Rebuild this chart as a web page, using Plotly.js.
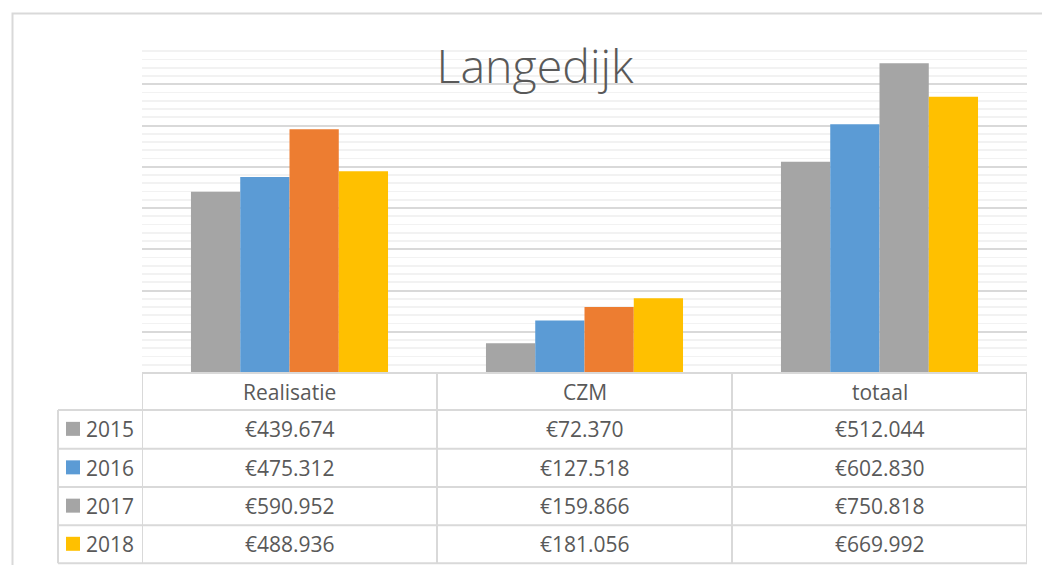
<!DOCTYPE html>
<html>
<head>
<meta charset="utf-8">
<script src="https://cdn.plot.ly/plotly-3.0.1.min.js"></script>
<style>html,body{margin:0;padding:0;background:#fff;}#chart{width:1042px;height:565px;}</style>
</head>
<body>
<div id="chart"></div>
<script>
// ---- data ----
var categories = ['Realisatie', 'CZM', 'totaal'];
var years = ['2015', '2016', '2017', '2018'];
var v2015 = [439674, 72370, 512044];
var v2016 = [475312, 127518, 602830];
var v2017 = [590952, 159866, 750818];
var v2018 = [488936, 181056, 669992];
var seriesValues = [v2015, v2016, v2017, v2018];
var barColors = [
  ['#a5a5a5', '#a5a5a5', '#a5a5a5'],
  ['#5b9bd5', '#5b9bd5', '#5b9bd5'],
  ['#ed7d31', '#ed7d31', '#a5a5a5'],
  ['#ffc000', '#ffc000', '#ffc000']
];
var legendColors = ['#a5a5a5', '#5b9bd5', '#a5a5a5', '#ffc000'];
var chartTitle = 'Langedijk';

// ---- layout helpers (pixel -> paper) ----
var W = 1042, H = 565;
var M = {l: 142, r: 15, t: 43, b: 192};
var PW = W - M.l - M.r, PH = H - M.t - M.b;
function xp(px) { return (px - M.l) / PW; }
function yp(py) { return (H - M.b - py) / PH; }

function fmt(v) {
  var s = String(Math.round(v));
  return '\u20AC' + s.replace(/\B(?=(\d{3})+(?!\d))/g, '.');
}

var txtColor = '#595959';
var fontFam = '"Open Sans", "Noto Sans", sans-serif';
var lineCol = '#d9d9d9';
var cellFont = 21;

var traces = years.map(function (y, i) {
  return {
    type: 'bar', name: y, x: categories, y: seriesValues[i],
    marker: {color: barColors[i], line: {width: 0}},
    hoverinfo: 'x+y+name', showlegend: false
  };
});

var shapes = [];
var annotations = [];

// outer frame
shapes.push({type: 'rect', xref: 'paper', yref: 'paper',
  x0: xp(12.5), x1: xp(1070), y0: yp(13.5), y1: yp(620),
  line: {color: lineCol, width: 2}, fillcolor: 'rgba(0,0,0,0)', layer: 'below'});

// table geometry
var rowLines = [373, 410, 448.7, 487, 525.3, 563.3];
var colEdges = [-0.5, 0.5, 1.5, 2.5];
var legendLeft = 58;
shapes.push({type: 'line', xref: 'x', yref: 'paper', x0: -0.5, x1: 2.5,
  y0: yp(rowLines[0]), y1: yp(rowLines[0]), line: {color: lineCol, width: 2}});
for (var r = 1; r < rowLines.length; r++) {
  shapes.push({type: 'line', xref: 'paper', yref: 'paper', x0: xp(legendLeft), x1: xp(1027),
    y0: yp(rowLines[r]), y1: yp(rowLines[r]), line: {color: lineCol, width: 2}});
}
colEdges.forEach(function (cx) {
  shapes.push({type: 'line', xref: 'x', yref: 'paper', x0: cx, x1: cx,
    y0: yp(rowLines[0]), y1: yp(rowLines[rowLines.length - 1]), line: {color: lineCol, width: 2}});
});
shapes.push({type: 'line', xref: 'paper', yref: 'paper', x0: xp(legendLeft), x1: xp(legendLeft),
  y0: yp(rowLines[1]), y1: yp(rowLines[rowLines.length - 1]), line: {color: lineCol, width: 2}});

// header labels
categories.forEach(function (c) {
  annotations.push({xref: 'x', yref: 'paper', x: c, y: yp((rowLines[0] + rowLines[1]) / 2),
    text: c, showarrow: false, xanchor: 'center', yanchor: 'middle',
    font: {family: fontFam, size: cellFont, color: txtColor}});
});

// rows
years.forEach(function (y, i) {
  var cy = (rowLines[i + 1] + rowLines[i + 2]) / 2;
  shapes.push({type: 'rect', xref: 'paper', yref: 'paper',
    x0: xp(66), x1: xp(80), y0: yp(cy - 7.5), y1: yp(cy + 6.5),
    fillcolor: legendColors[i], line: {width: 0}});
  annotations.push({xref: 'paper', yref: 'paper', x: xp(84), y: yp(cy),
    text: y, showarrow: false, xanchor: 'left', yanchor: 'middle',
    font: {family: fontFam, size: cellFont, color: txtColor}});
  categories.forEach(function (c, j) {
    annotations.push({xref: 'x', yref: 'paper', x: c, y: yp(cy),
      text: fmt(seriesValues[i][j]), showarrow: false, xanchor: 'center', yanchor: 'middle',
      font: {family: fontFam, size: cellFont, color: txtColor}});
  });
});

var layout = {
  width: W, height: H,
  margin: M,
  paper_bgcolor: '#ffffff', plot_bgcolor: '#ffffff',
  title: {text: chartTitle, xref: 'container', yref: 'container',
    x: 535 / W, xanchor: 'center', y: 1 - 67 / H, yanchor: 'middle',
    font: {family: fontFam, size: 46.5, color: txtColor, weight: 300}},
  barmode: 'group', bargap: 0.332, bargroupgap: 0,
  xaxis: {type: 'category', range: [-0.5, 2.5], showticklabels: false, showgrid: false,
    zeroline: false, showline: false, ticks: ''},
  yaxis: {range: [0, 800000], dtick: 100000, showticklabels: false, ticks: '',
    showgrid: true, gridcolor: '#d9d9d9', gridwidth: 2, zeroline: false, showline: false,
    minor: {dtick: 20000, showgrid: true, gridcolor: '#f2f2f2', gridwidth: 1.7, ticks: ''}},
  shapes: shapes,
  annotations: annotations,
  showlegend: false
};

Plotly.newPlot('chart', traces, layout, {displayModeBar: false, staticPlot: true});
</script>
</body>
</html>
